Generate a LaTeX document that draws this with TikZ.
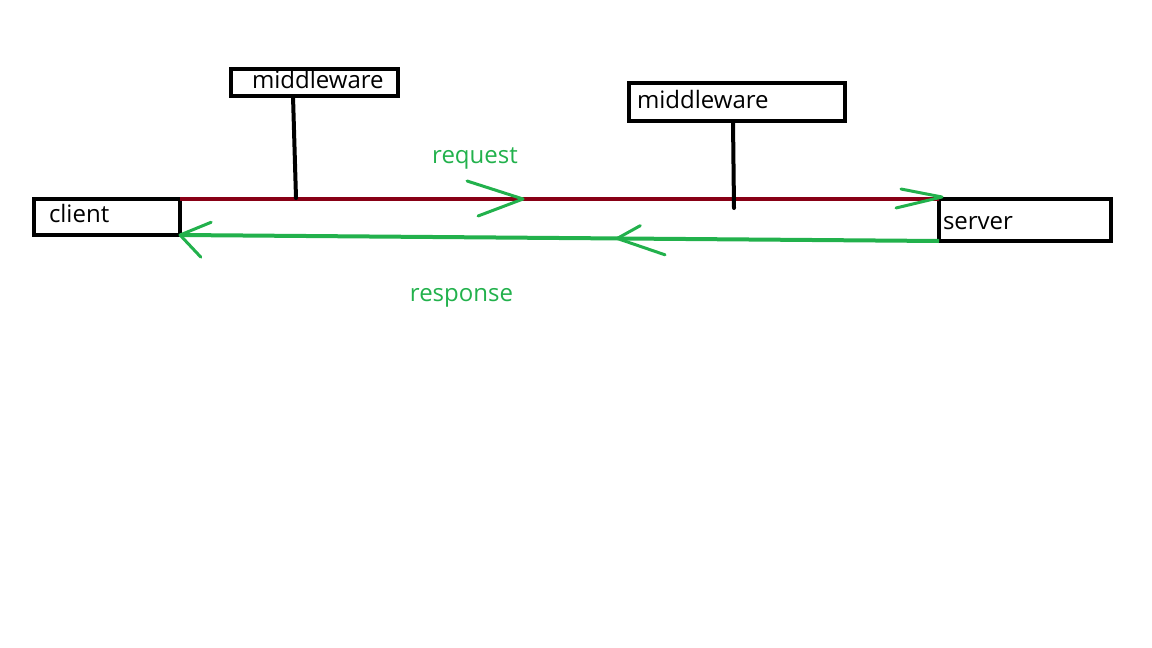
\documentclass[tikz,border=0pt]{standalone}
\usepackage{fontspec}
\setmainfont{Open Sans}
\usetikzlibrary{decorations.markings}

\definecolor{paintred}{HTML}{880015}
\definecolor{paintgreen}{HTML}{22B14C}

\begin{document}
\begin{tikzpicture}[x=1pt, y=-1pt,
    box/.style={draw, line width=4.5pt, outer sep=0pt, inner ysep=0pt, align=left,
      font=\fontsize{24}{28}\selectfont},
    stem/.style={line width=4pt, line cap=round},
    reqline/.style={draw=paintred, line width=4pt},
    respline/.style={draw=paintgreen, line width=4pt},
    barb/.style={draw=paintgreen, line width=3pt, line cap=round, line join=round},
    flowtext/.style={text=paintgreen, font=\fontsize{24}{28}\selectfont, anchor=base}]
  \useasboundingbox (0,0) rectangle (1152,648);

  % boxes
  \node[box, text width=116pt, inner xsep=15pt, minimum height=36pt, text height=17pt, text depth=7pt]
    (client) at (107,217) {client};
  \node[box, text width=125pt, inner xsep=21pt, minimum height=27pt, text height=13pt, text depth=2pt]
    (mw1) at (314.5,82.5) {middleware};
  \node[box, text width=200pt, inner xsep=8pt, minimum height=38pt, text height=14pt, text depth=2pt]
    (mw2) at (737,102) {middleware};
  \node[box, text width=164pt, inner xsep=4pt, minimum height=42pt, text height=19pt, text depth=1pt]
    (server) at (1025,220) {server};

  % points where the middleware taps into the request line
  \coordinate (tap1) at (296,198);
  \coordinate (tap2) at (734,208);

  % request line with two green heads
  \draw[reqline, postaction={decorate, decoration={markings,
      mark=at position 0.452 with {\draw[barb] (-56pt,18pt) -- (0,0) -- (-45pt,-17pt);},
      mark=at position 1 with {\draw[barb] (-38pt,10pt) -- (3pt,2pt) -- (-43pt,-9pt);}}}]
    (client.north east) -- (server.north west);

  % response line with two green heads
  \draw[respline, postaction={decorate, decoration={markings,
      mark=at position 0.424 with {\draw[barb] (-23pt,-13pt) -- (0,0) -- (-48pt,16pt);},
      mark=at position 1 with {\draw[barb] (-31pt,-13pt) -- (0,0) -- (-21pt,22pt);}}}]
    (server.south west) -- (client.south east);

  % middleware stems
  \draw[stem] ([xshift=-21.5pt]mw1.south) -- (tap1);
  \draw[stem] ([xshift=-4pt]mw2.south) -- (tap2);

  % labels
  \node[flowtext] (reqlabel) at (475,163) {request};
  \node[flowtext] (resplabel) at (461.5,301) {response};
\end{tikzpicture}
\end{document}
